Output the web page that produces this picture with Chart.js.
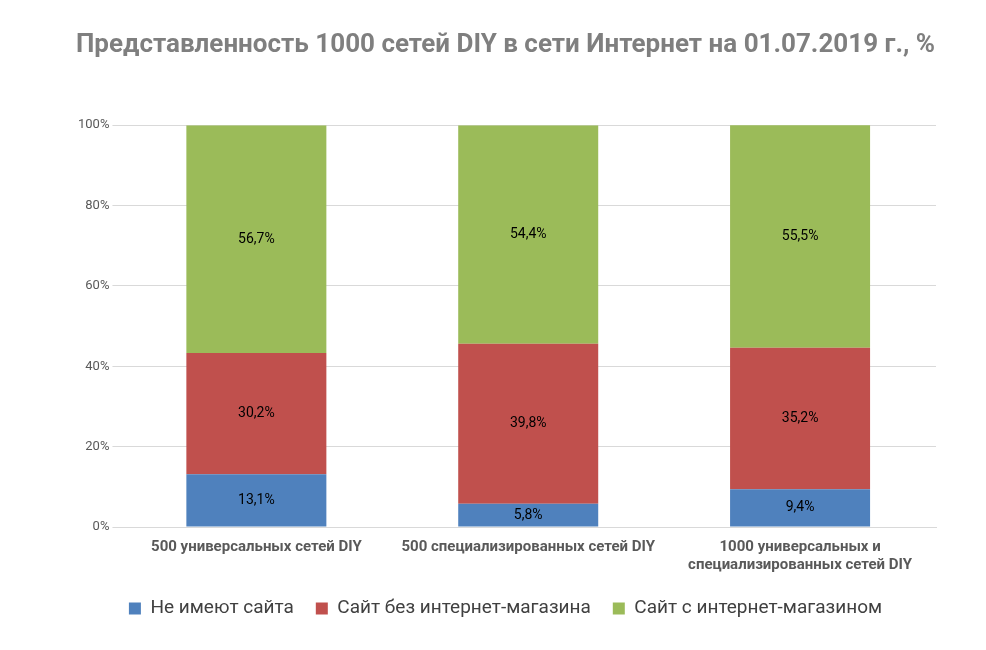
<!DOCTYPE html>
<html><head><meta charset="utf-8">
<script src="https://cdn.jsdelivr.net/npm/chart.js@4"></script>
<style>html,body{margin:0;background:#fff}#w{width:986px;height:650px}</style>
</head><body><div id="w"><canvas id="c"></canvas></div>
<script>
const categories=[["500 универсальных сетей DIY"],["500 специализированных сетей DIY"],["1000 универсальных и","специализированных сетей DIY"]];
const noSite=[13.1,5.8,9.4];
const siteNoShop=[30.2,39.8,35.2];
const siteShop=[56.7,54.4,55.5];
const seriesNames=["Не имеют сайта","Сайт без интернет-магазина","Сайт с интернет-магазином"];
const F="Roboto, 'Liberation Sans Narrow', sans-serif";
const labels={id:'lbl',afterDatasetsDraw(ch){const x=ch.ctx;x.save();x.font="14px "+F;x.fillStyle="#000";x.textAlign="center";x.textBaseline="middle";
ch.data.datasets.forEach((d,i)=>ch.getDatasetMeta(i).data.forEach((b,j)=>{x.fillText(d.data[j].toFixed(1).replace('.',',')+'%',b.x,(b.y+b.base)/2);}));x.restore();}};
new Chart(document.getElementById('c'),{type:'bar',
data:{labels:categories,datasets:[
{label:seriesNames[0],data:noSite,backgroundColor:'#4f81bd'},
{label:seriesNames[1],data:siteNoShop,backgroundColor:'#c0504d'},
{label:seriesNames[2],data:siteShop,backgroundColor:'#9bbb59'}]},
options:{responsive:true,maintainAspectRatio:false,animation:false,
layout:{padding:{left:75,right:50,top:10,bottom:22}},
datasets:{bar:{categoryPercentage:1,barPercentage:0.515}},
plugins:{title:{display:true,text:"Представленность 1000 сетей DIY в сети Интернет на 01.07.2019 г., %",color:'#7f7f7f',font:{family:F,size:26,weight:'bold'},padding:{top:20,bottom:64}},
legend:{position:'bottom',labels:{boxWidth:12,boxHeight:12,color:'#404040',font:{family:F,size:19},padding:22}},tooltip:{enabled:false}},
scales:{x:{stacked:true,grid:{display:false},border:{color:'#d9d9d9'},ticks:{color:'#595959',font:{family:F,size:15,weight:'bold'}}},
y:{stacked:true,min:0,max:100,ticks:{stepSize:20,callback:v=>v+'%',color:'#595959',font:{family:F,size:13}},grid:{color:'#d9d9d9'},border:{display:false}}}},
plugins:[labels]});
</script></body></html>
